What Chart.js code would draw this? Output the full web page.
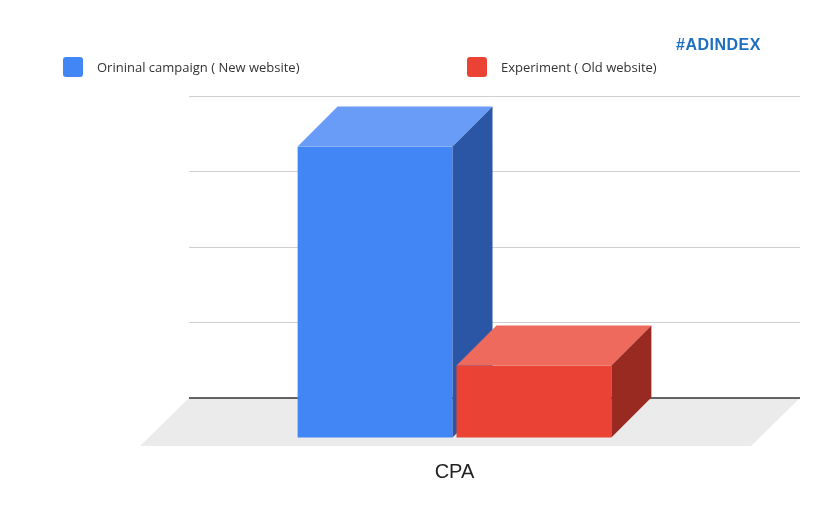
<!DOCTYPE html>
<html><head><meta charset="utf-8">
<script src="https://cdn.jsdelivr.net/npm/chart.js@4"></script>
<style>
body{margin:0;background:#fff;font-family:"Open Sans",Arial,sans-serif}
#wrap{position:relative;width:825px;height:525px}
.lg{position:absolute;top:57px;font-size:13px;color:#333;display:flex;align-items:center}
.lg i{display:inline-block;width:20px;height:20px;border-radius:3px;margin-right:14px}
#logo{position:absolute;left:676px;top:36px;font:bold 16px "Liberation Sans",Arial;color:#1e6fc0;letter-spacing:0.5px}
</style></head><body>
<div id="wrap">
<canvas id="c" width="825" height="525"></canvas>
<div class="lg" style="left:63px"><i style="background:#4285f4"></i>Orininal campaign ( New website)</div>
<div class="lg" style="left:467px"><i style="background:#ea4335"></i>Experiment ( Old website)</div>
<div id="logo">#ADINDEX</div>
</div>
<script>
// 데이터
var categories = ['CPA'];
var seriesNames = ['Orininal campaign ( New website)', 'Experiment ( Old website)'];
var originalValues = [3.86];
var experimentValues = [0.96];

var faces = [
  {front: '#4285f4', top: '#689cf6', side: '#2a56a5'},
  {front: '#ea4335', top: '#ee6a5c', side: '#982a22'}
];
var DX = 40, DY = 40;

var bar3d = {
  id: 'bar3d',
  beforeDatasetsDraw: function(chart) {
    var c = chart.ctx, a = chart.chartArea, y0 = chart.scales.y.getPixelForValue(0);
    c.save();
    c.fillStyle = '#ebebeb';
    c.beginPath();
    c.moveTo(a.left, y0); c.lineTo(a.right, y0);
    c.lineTo(a.right - 49, y0 + 48); c.lineTo(a.left - 49, y0 + 48);
    c.closePath(); c.fill();
    c.strokeStyle = '#333'; c.lineWidth = 1.5;
    c.beginPath(); c.moveTo(a.left, y0); c.lineTo(a.right, y0); c.stroke();
    c.restore();
  },
  afterDatasetsDraw: function(chart) {
    var c = chart.ctx;
    c.save();
    chart.data.datasets.forEach(function(ds, i) {
      chart.getDatasetMeta(i).data.forEach(function(b) {
        var f = faces[i], w = b.width;
        var L = b.x - w / 2 - DX, R = b.x + w / 2 - DX, T = b.y + DY, B = b.base + DY;
        c.fillStyle = f.front; c.fillRect(L, T, R - L, B - T);
        c.fillStyle = f.top; c.beginPath();
        c.moveTo(L, T); c.lineTo(L + DX, T - DY); c.lineTo(R + DX, T - DY); c.lineTo(R, T);
        c.closePath(); c.fill();
        c.fillStyle = f.side; c.beginPath();
        c.moveTo(R, T); c.lineTo(R + DX, T - DY); c.lineTo(R + DX, B - DY); c.lineTo(R, B);
        c.closePath(); c.fill();
      });
    });
    var xs = chart.scales.x;
    c.fillStyle = '#222'; c.font = '20px "Liberation Sans", Arial'; c.textAlign = 'center';
    categories.forEach(function(lab, k) {
      c.fillText(lab, xs.getPixelForValue(k) - DX, chart.scales.y.getPixelForValue(0) + 80);
    });
    c.restore();
  }
};

new Chart(document.getElementById('c').getContext('2d'), {
  type: 'bar',
  data: {
    labels: categories,
    datasets: [
      {label: seriesNames[0], data: originalValues, backgroundColor: 'rgba(0,0,0,0)'},
      {label: seriesNames[1], data: experimentValues, backgroundColor: 'rgba(0,0,0,0)'}
    ]
  },
  options: {
    responsive: false, animation: false,
    layout: {padding: {left: 189, top: 96, right: 25, bottom: 127}},
    datasets: {bar: {categoryPercentage: 0.52, barPercentage: 0.975}},
    plugins: {legend: {display: false}, tooltip: {enabled: false}},
    scales: {
      x: {display: false},
      y: {min: 0, max: 4, ticks: {display: false, stepSize: 1}, border: {display: false},
          grid: {color: '#cfcfcf', drawTicks: false}}
    }
  },
  plugins: [bar3d]
});
</script>
</body></html>
